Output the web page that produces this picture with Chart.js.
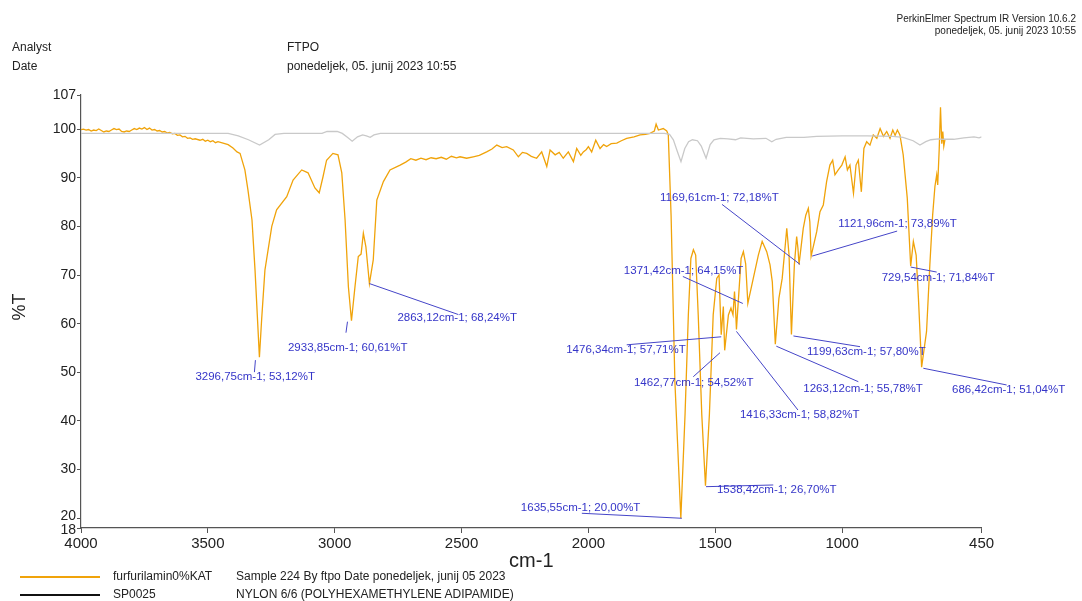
<!DOCTYPE html>
<html>
<head>
<meta charset="utf-8">
<script src="https://cdn.jsdelivr.net/npm/chart.js@4"></script>
<style>
  body { margin: 0; background: #fff; font-family: "Liberation Sans", Arial, sans-serif; color: #222; }
  #wrap { position: relative; width: 1082px; height: 601px; overflow: hidden; }
  #c { position: absolute; left: 0; top: 0; }
  .t { position: absolute; white-space: nowrap; line-height: 1; }
  .sw { position: absolute; height: 2px; }
</style>
</head>
<body>
<div id="wrap">
  <canvas id="c" width="1082" height="601"></canvas>
  <div class="t" style="right:6px;top:13px;font-size:10px;line-height:12px;text-align:right">PerkinElmer Spectrum IR Version 10.6.2<br>ponedeljek, 05. junij 2023 10:55</div>
  <div class="t" style="left:12px;top:41px;font-size:12px">Analyst</div>
  <div class="t" style="left:12px;top:60px;font-size:12px">Date</div>
  <div class="t" style="left:287px;top:41px;font-size:12px">FTPO</div>
  <div class="t" style="left:287px;top:60px;font-size:12px">ponedeljek, 05. junij 2023 10:55</div>
  <div class="sw" style="left:20px;top:576px;width:80px;background:#f0a30a"></div>
  <div class="sw" style="left:20px;top:594px;width:80px;background:#111"></div>
  <div class="t" style="left:113px;top:570px;font-size:12px">furfurilamin0%KAT</div>
  <div class="t" style="left:236px;top:570px;font-size:12px">Sample 224 By ftpo Date ponedeljek, junij 05 2023</div>
  <div class="t" style="left:113px;top:588px;font-size:12px">SP0025</div>
  <div class="t" style="left:236px;top:588px;font-size:12px">NYLON 6/6 (POLYHEXAMETHYLENE ADIPAMIDE)</div>
</div>
<script>
// sample spectrum (furfurilamin0%KAT), wavenumber cm-1 / %T
const sampleWn = [4000,3990,3980,3970,3960,3950,3940,3930,3920,3910,3900,3890,3880,3870,3860,3850,3840,3830,3820,3810,
  3800,3790,3780,3770,3760,3750,3740,3730,3720,3710,3700,3690,3680,3670,3660,3650,3640,3630,3620,3610,
  3600,3590,3580,3570,3560,3550,3531,3520,3510,3500,3490,3480,3470,3460,3440,3420,3401,3385,3373,3354,
  3342,3326,3314,3296.75,3288,3275,3248,3229,3189,3164,3130,3105,3078,3061,3046,3032,3007,2987,2972,2959,
  2946,2933.85,2920,2907,2896,2887,2877,2863.12,2848,2834,2808,2782,2742,2720,2700,2680,2660,2640,2620,2600,
  2580,2560,2540,2520,2506,2480,2454,2430,2401,2380,2361,2340,2322,2296,2276,2260,2243,2225,2204,2184,
  2164,2151,2131,2115,2099,2079,2059,2046,2030,2020,2008,2000,1987,1971,1954,1940,1928,1910,1888,1870,
  1849,1820,1796,1775,1757,1740,1733,1724,1705,1691,1685,1674,1659,1635.55,1619,1606,1596,1586,1577,1567,
  1553,1538.42,1523,1508,1494,1485,1476.34,1468,1462.77,1448,1438,1430,1424,1420,1416.33,1398,1389,1380,1371.42,1350,
  1330,1315,1297,1284,1275,1263.12,1249,1236,1225,1218,1209,1199.63,1188,1179,1174,1169.61,1153,1143,1133,1127,
  1121.96,1100,1087,1074,1061,1048,1037,1028,1015,1001,988,979,969,955,945,936,924,914,903,890,
  877,863,850,837,824,811,800,791,782,772,759,743,729.54,719,708,699,686.42,667,654,643,
  634,627,623,617,612,607,603,599,594];
const sampleT = [99.9,100.0,99.8,99.9,99.6,99.8,99.7,100.0,99.7,99.4,99.6,99.5,99.8,100.1,99.9,100.0,99.5,99.4,99.6,99.5,
  99.8,100.1,99.9,100.2,100.0,100.3,99.9,100.2,99.8,99.9,99.6,99.7,99.4,99.5,99.2,99.3,99.0,99.1,98.7,98.8,
  98.4,98.5,98.1,98.2,97.9,98.0,97.7,97.9,97.5,97.7,97.4,97.6,97.2,97.4,97.1,96.8,96.1,95.3,95.0,91.6,
  87.5,81.3,71.0,53.12,60.8,71.0,80.0,83.4,86.1,89.5,91.6,91.0,87.9,86.9,90.2,93.6,95.0,94.7,91.0,81.3,
  67.6,60.61,67.6,73.8,74.3,78.6,75.8,68.24,73.1,85.4,89.2,91.6,92.6,93.2,93.9,93.6,94.0,93.7,94.1,93.9,
  94.2,93.8,94.4,94.1,94.3,94.0,94.3,94.6,95.3,95.9,96.7,96.2,96.4,95.7,94.3,95.2,95.0,94.4,94.0,95.3,
  92.3,95.7,94.7,95.2,94.0,95.3,93.3,96.0,94.6,95.3,95.8,96.4,95.3,97.7,96.0,96.8,96.4,97.0,97.1,97.6,
  98.1,98.4,98.8,98.9,99.1,99.6,101.0,99.8,100.1,99.6,98.8,82.3,48.1,20.0,41.3,61.8,73.4,75.2,74.1,61.8,
  41.3,26.7,41.3,61.8,69.3,70.0,57.71,63.5,54.52,61.8,63.2,61.8,66.6,63.0,58.82,73.4,74.8,72.3,64.15,69.3,
  74.1,76.9,74.8,72.1,68.6,55.78,65.2,69.3,75.5,79.6,74.1,57.80,72.1,77.9,75.5,72.18,79.6,82.3,83.7,80.9,
  73.89,78.9,83.0,84.4,89.2,92.6,93.6,90.6,91.6,92.6,94.3,91.6,92.6,86.8,92.6,93.6,87.1,96.0,97.4,96.7,
  98.8,98.1,100.1,98.5,99.5,98.1,99.8,98.7,99.8,98.8,94.7,85.8,71.84,76.9,74.1,65.2,51.04,58.4,72.1,82.3,
  88.2,90.6,88.5,96.0,104.5,97.0,99.5,96.5,98.0];

// reference spectrum (SP0025, nylon 6/6)
const refWn = [4000,3700,3420,3380,3340,3296,3260,3235,3200,3050,3030,2990,2970,2950,2931,2910,2890,2875,2860,2845,
  2820,2500,2000,1700,1680,1665,1650,1635,1620,1605,1590,1570,1555,1536,1520,1505,1480,1450,1420,1400,
  1350,1300,1277,1260,1220,1150,1100,1000,900,800,760,720,693,670,650,620,600,560,520,480,460,450];
const refT = [99.1,99.1,99.1,98.6,97.8,96.7,97.8,98.9,99.1,99.1,99.5,99.5,99.1,98.3,97.5,98.4,98.8,98.6,98.3,98.8,
  99.1,99.1,99.1,99.1,98.9,97.8,95.5,93.3,96.0,97.4,97.8,97.6,96.5,94.0,96.8,97.8,98.1,98.0,97.8,98.2,
  98.0,98.1,97.4,97.9,98.3,98.3,98.5,98.6,98.6,98.5,98.3,97.6,96.7,97.4,97.8,98.0,97.9,97.9,98.2,98.4,98.2,98.4];

// labelled peaks
const peakWn = [3296.75, 2933.85, 2863.12, 1169.61, 1121.96, 1371.42, 729.54, 1476.34, 1462.77, 1416.33, 1263.12, 1199.63, 686.42, 1538.42, 1635.55];
const peakT  = [53.12, 60.61, 68.24, 72.18, 73.89, 64.15, 71.84, 57.71, 54.52, 58.82, 55.78, 57.80, 51.04, 26.70, 20.00];

const xTicks = [4000, 3500, 3000, 2500, 2000, 1500, 1000, 450];
const yTicks = [107, 100, 90, 80, 70, 60, 50, 40, 30, 20, 18];

// label placement: leader line [dx1,dy1,dx2,dy2] and text [dx,dy] in px from the peak
const labelLayout = [
  { line: [-4, 3, -5, 15], text: [-64, 20] },
  { line: [-4, 1, -5.5, 12], text: [-63.5, 27] },
  { line: [0, 0, 89, 31], text: [28, 34.5] },
  { line: [1, 0, -77, -60], text: [-139, -67] },
  { line: [1, 0, 86, -25], text: [27, -32] },
  { line: [-5, 0, -65, -27], text: [-124, -32.5] },
  { line: [0, 1, 26, 6], text: [-29, 12] },
  { line: [0, 2, -94.5, 10], text: [-155, 15] },
  { line: [-4.7, 2.4, -31.4, 26.4], text: [-90.7, 32.4] },
  { line: [0, 2, 61.5, 80.6], text: [3.5, 85.6] },
  { line: [1, 2, 83, 37.5], text: [28, 45] },
  { line: [2, 1.6, 68.6, 12.3], text: [15.6, 17.3] },
  { line: [1.7, 1, 85, 17.7], text: [30.4, 22.7] },
  { line: [0.5, 1, 67.8, -0.7], text: [11.5, 4.3] },
  { line: [1, 0, -99, -5], text: [-160, -10.6] }
];

const fmt = v => v.toFixed(2).replace('.', ',');

const extras = {
  id: 'extras',
  afterDraw(chart) {
    const { ctx, chartArea: a, scales: { x, y } } = chart;
    ctx.save();
    // axis titles
    ctx.fillStyle = '#222';
    ctx.font = '20px "Liberation Sans", Arial, sans-serif';
    ctx.textAlign = 'center';
    ctx.textBaseline = 'middle';
    ctx.fillText('cm-1', (a.left + a.right) / 2, 561);
    ctx.save();
    ctx.translate(20, 307);
    ctx.rotate(-Math.PI / 2);
    ctx.font = '18px "Liberation Sans", Arial, sans-serif';
    ctx.fillText('%T', 0, 0);
    ctx.restore();
    // peak labels
    ctx.strokeStyle = '#4545c8';
    ctx.fillStyle = '#3535c8';
    ctx.lineWidth = 1;
    ctx.font = '11.5px "Liberation Sans", Arial, sans-serif';
    ctx.textAlign = 'left';
    peakWn.forEach((wn, i) => {
      const px = x.getPixelForValue(wn), py = y.getPixelForValue(peakT[i]);
      const L = labelLayout[i];
      ctx.beginPath();
      ctx.moveTo(px + L.line[0], py + L.line[1]);
      ctx.lineTo(px + L.line[2], py + L.line[3]);
      ctx.stroke();
      ctx.fillText(fmt(wn) + 'cm-1; ' + fmt(peakT[i]) + '%T', px + L.text[0], py + L.text[1]);
    });
    ctx.restore();
  }
};

new Chart(document.getElementById('c'), {
  type: 'line',
  data: {
    datasets: [
      {
        label: 'SP0025',
        data: refWn.map((w, i) => ({ x: w, y: refT[i] })),
        borderColor: '#c9c9c9',
        borderWidth: 1.3,
        pointRadius: 0,
        tension: 0
      },
      {
        label: 'furfurilamin0%KAT',
        data: sampleWn.map((w, i) => ({ x: w, y: sampleT[i] })),
        borderColor: '#f0a30a',
        borderWidth: 1.3,
        pointRadius: 0,
        tension: 0
      }
    ]
  },
  options: {
    responsive: false,
    animation: false,
    layout: { padding: { top: 95, right: 100.4, bottom: 0, left: 0 } },
    plugins: { legend: { display: false }, tooltip: { enabled: false } },
    scales: {
      x: {
        type: 'linear',
        reverse: true,
        min: 450,
        max: 4000,
        afterFit: s => { s.height = 73; },
        afterBuildTicks: s => { s.ticks = xTicks.map(v => ({ value: v })); },
        ticks: {
          autoSkip: false, maxRotation: 0, padding: 2,
          color: '#222',
          font: { size: 15, family: '"Liberation Sans", Arial, sans-serif' },
          callback: v => v
        },
        grid: { drawOnChartArea: false, tickLength: 5, color: '#555' },
        border: { color: '#555', width: 1.2 }
      },
      y: {
        min: 18,
        max: 107,
        afterFit: s => { s.width = 81; },
        afterBuildTicks: s => { s.ticks = yTicks.map(v => ({ value: v })); },
        ticks: {
          autoSkip: false, padding: 1,
          color: '#222',
          font: { size: 14, lineHeight: 0.3, family: '"Liberation Sans", Arial, sans-serif' },
          // 20 and 18 sit close together: nudge them apart
          callback: v => v === 20 ? ['20', ''] : v === 18 ? ['', '18'] : v
        },
        grid: { drawOnChartArea: false, tickLength: 4, color: '#555' },
        border: { color: '#555', width: 1.2 }
      }
    }
  },
  plugins: [extras]
});
</script>
</body>
</html>
